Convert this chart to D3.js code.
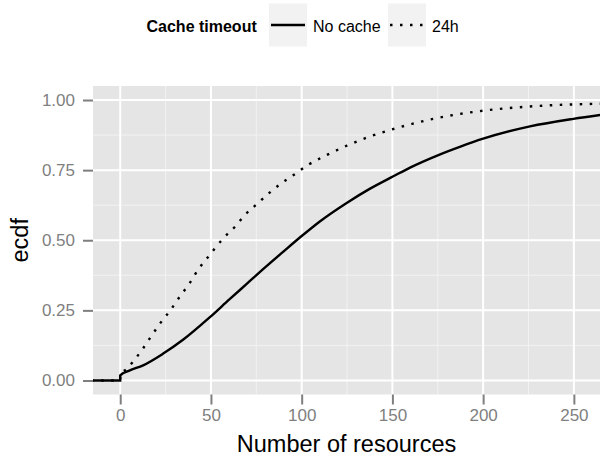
<!DOCTYPE html>
<html>
<head>
<meta charset="utf-8">
<script src="https://cdn.jsdelivr.net/npm/d3@7"></script>
<style>
  body { margin: 0; background: #fff; }
  text { font-family: "Liberation Sans", Arial, sans-serif; }
</style>
</head>
<body>
<div id="chart"></div>
<script>
// Canvas and panel bounds
const w = 600;
const h = 456;
const panel = { left: 93, right: 600, top: 86, bottom: 394.5 };

// Tick values
const xTicks = [0, 50, 100, 150, 200, 250];
const xMinor = [25, 75, 125, 175, 225];
const yTicks = [0, 0.25, 0.5, 0.75, 1];
const yMinor = [0.125, 0.375, 0.625, 0.875];

// Series (x = number of resources, y = ecdf)
const noCacheX = [-16, 0, 0.01, 5, 12.6, 23.5, 34.6, 49.3, 60, 70, 80, 90, 100, 110, 124.8, 137.7, 150.5, 160, 175, 187.5, 200, 225.8, 249.7, 266];
const noCacheY = [0, 0, 0.018, 0.035, 0.054, 0.095, 0.145, 0.225, 0.288, 0.346, 0.404, 0.46, 0.515, 0.567, 0.633, 0.684, 0.728, 0.76, 0.803, 0.834, 0.862, 0.906, 0.933, 0.948];

const h24X = [-16, 0, 0.01, 3.3, 12.1, 17, 22.6, 27.6, 32.7, 38.2, 42.8, 48.3, 56.8, 63.2, 68.7, 75.5, 82, 89, 96.3, 103.6, 112, 124.8, 137.6, 152.4, 172.6, 200, 225.8, 266];
const h24Y = [0, 0, 0.02, 0.04, 0.11, 0.157, 0.209, 0.25, 0.298, 0.346, 0.394, 0.439, 0.507, 0.548, 0.59, 0.63, 0.668, 0.704, 0.736, 0.769, 0.798, 0.837, 0.87, 0.9, 0.933, 0.962, 0.977, 0.987];

const seriesNames = ["No cache", "24h"];

const svg = d3.select("#chart").append("svg")
  .attr("width", w)
  .attr("height", h);

const xScale = d3.scaleLinear().domain([-15, 264.4]).range([panel.left, panel.right]);
const yScale = d3.scaleLinear().domain([-0.05, 1.05]).range([panel.bottom, panel.top]);

// Panel background
svg.append("rect")
  .attr("x", panel.left)
  .attr("y", panel.top)
  .attr("width", panel.right - panel.left)
  .attr("height", panel.bottom - panel.top)
  .attr("fill", "#e5e5e5");

// Minor grid
svg.selectAll(".xminor").data(xMinor).enter().append("line")
  .attr("x1", d => xScale(d)).attr("x2", d => xScale(d))
  .attr("y1", panel.top).attr("y2", panel.bottom)
  .attr("stroke", "#f2f2f2").attr("stroke-width", 1);
svg.selectAll(".yminor").data(yMinor).enter().append("line")
  .attr("y1", d => yScale(d)).attr("y2", d => yScale(d))
  .attr("x1", panel.left).attr("x2", panel.right)
  .attr("stroke", "#f2f2f2").attr("stroke-width", 1);

// Major grid
svg.selectAll(".xmajor").data(xTicks).enter().append("line")
  .attr("x1", d => xScale(d)).attr("x2", d => xScale(d))
  .attr("y1", panel.top).attr("y2", panel.bottom)
  .attr("stroke", "#fff").attr("stroke-width", 2);
svg.selectAll(".ymajor").data(yTicks).enter().append("line")
  .attr("y1", d => yScale(d)).attr("y2", d => yScale(d))
  .attr("x1", panel.left).attr("x2", panel.right)
  .attr("stroke", "#fff").attr("stroke-width", 2);

// Axes
const xAxis = d3.axisBottom(xScale).tickValues(xTicks).tickSize(10).tickPadding(4).tickFormat(d3.format("d"));
const yAxis = d3.axisLeft(yScale).tickValues(yTicks).tickSize(10).tickPadding(8).tickFormat(d3.format(".2f"));

const gx = svg.append("g")
  .attr("transform", `translate(0,${panel.bottom})`)
  .call(xAxis);
const gy = svg.append("g")
  .attr("transform", `translate(${panel.left},0)`)
  .call(yAxis);

[gx, gy].forEach(g => {
  g.select(".domain").remove();
  g.selectAll(".tick line").attr("stroke", "#7f7f7f").attr("stroke-width", 2);
  g.selectAll(".tick text")
    .attr("fill", "#7f7f7f")
    .style("font-size", "17px")
    .style("font-family", "'Liberation Sans', Arial, sans-serif");
});

// Lines, clipped to the panel
svg.append("clipPath").attr("id", "panelClip")
  .append("rect")
  .attr("x", panel.left).attr("y", panel.top)
  .attr("width", panel.right - panel.left).attr("height", panel.bottom - panel.top);

const line = d3.line()
  .x(d => xScale(d[0]))
  .y(d => yScale(d[1]))
  .curve(d3.curveMonotoneX);

const series = [
  { name: seriesNames[0], pts: d3.zip(noCacheX, noCacheY), dash: null },
  { name: seriesNames[1], pts: d3.zip(h24X, h24Y), dash: "2.5,7.5" }
];

svg.append("g").attr("clip-path", "url(#panelClip)")
  .selectAll("path")
  .data(series)
  .enter()
  .append("path")
  .attr("d", d => line(d.pts))
  .attr("fill", "none")
  .attr("stroke", "#000")
  .attr("stroke-width", 2.4)
  .attr("stroke-dasharray", d => d.dash);

// Axis titles
svg.append("text")
  .attr("x", (panel.left + panel.right) / 2)
  .attr("y", 452)
  .attr("text-anchor", "middle")
  .style("font-size", "23.5px")
  .text("Number of resources");

svg.append("text")
  .attr("transform", `translate(28,${(panel.top + panel.bottom) / 2}) rotate(-90)`)
  .attr("text-anchor", "middle")
  .style("font-size", "23.5px")
  .text("ecdf");

// Legend
const legend = svg.append("g");
legend.append("text")
  .attr("x", 146.5).attr("y", 32)
  .style("font-size", "16px")
  .style("font-weight", "bold")
  .text("Cache timeout");

const keyX = [269, 388];
const labelX = [313, 432];
series.forEach((s, i) => {
  legend.append("rect")
    .attr("x", keyX[i]).attr("y", 3.5)
    .attr("width", 38).attr("height", 43)
    .attr("fill", "#f2f2f2");
  legend.append("line")
    .attr("x1", keyX[i] + 2).attr("x2", keyX[i] + 36)
    .attr("y1", 25).attr("y2", 25)
    .attr("stroke", "#000").attr("stroke-width", 2.4)
    .attr("stroke-dasharray", s.dash);
  legend.append("text")
    .attr("x", labelX[i]).attr("y", 32)
    .style("font-size", "16px")
    .text(s.name);
});
</script>
</body>
</html>
